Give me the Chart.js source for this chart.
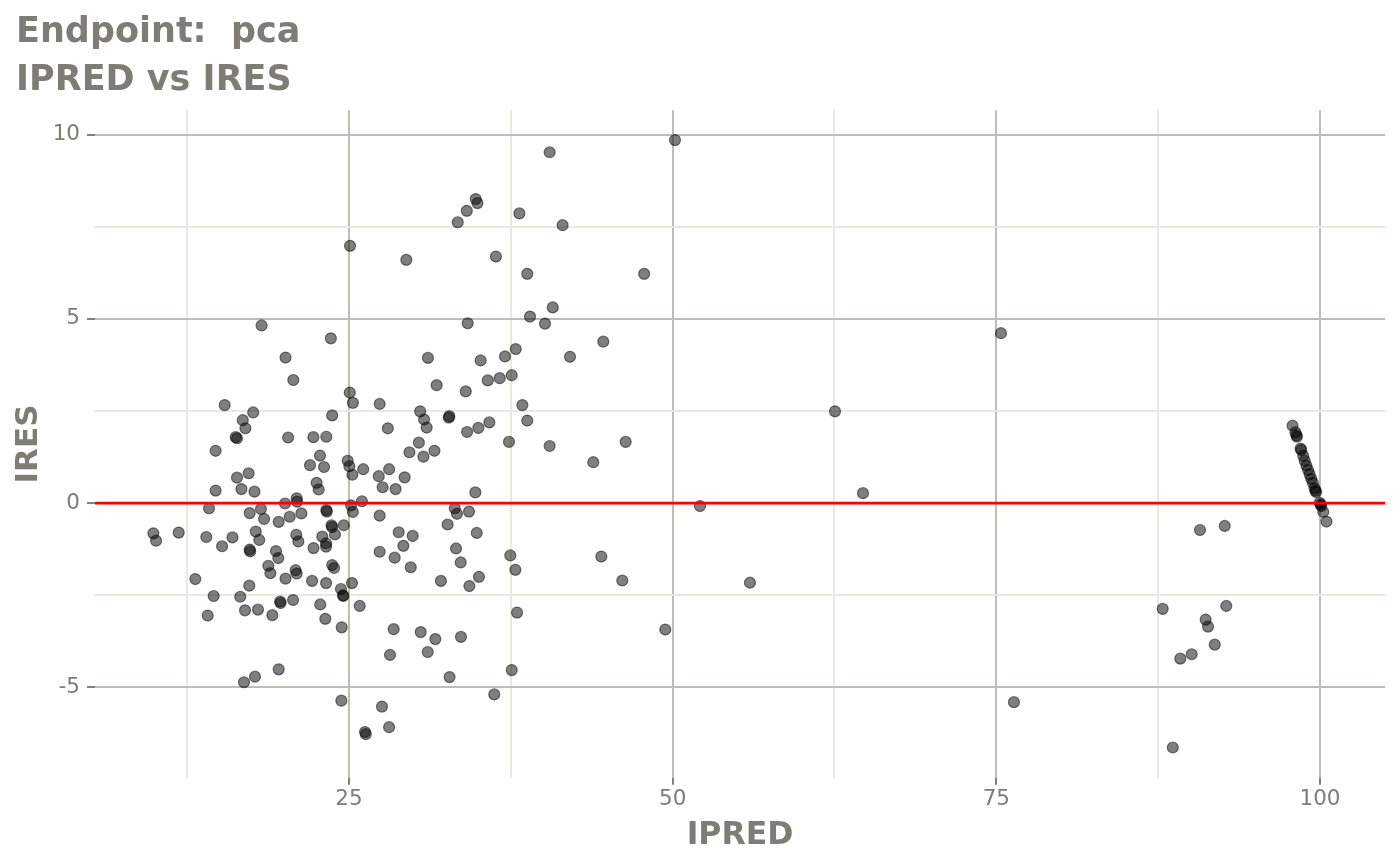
<!DOCTYPE html>
<html>
<head>
  <title>IPRED vs IRES</title>
  <script src="https://cdn.jsdelivr.net/npm/chart.js"></script>
  <style>
    body { margin: 0; background: #ffffff; }
    .chart-container { width: 1400px; height: 865px; }
  </style>
</head>
<body>
  <div class="chart-container">
    <canvas id="chart" width="1400" height="865"></canvas>
  </div>

  <script>
    // individual predictions (x) and individual residuals (y)
    const iPred = [
      25.08, 29.43, 18.25, 23.60, 20.10, 20.70, 25.06, 25.30, 27.37, 31.10,
      31.77, 15.40, 17.60, 16.80, 17.00, 23.70, 28.00, 30.50, 30.80, 31.00,
      16.25, 16.35, 20.30, 22.25, 23.25, 30.40, 14.70,
      29.67, 30.75, 31.60, 22.76, 21.99, 23.07, 24.90, 25.03, 25.26, 26.10,
      27.30, 28.10, 29.30, 27.60, 28.60, 22.50, 22.66, 16.35, 17.25, 14.70,
      16.69, 17.70, 20.06, 20.96, 21.00, 25.16, 25.30, 26.00, 14.19, 17.33,
      18.20, 18.44, 19.57, 20.42, 21.32, 23.25, 23.29, 23.65, 23.70, 24.60,
      27.37, 9.89, 10.10, 11.85, 13.98, 15.20, 16.00, 17.80, 18.07, 17.33,
      17.37, 19.36, 19.54, 20.93, 21.09, 22.26, 22.94, 23.23, 23.23, 23.92,
      27.37, 28.53, 28.84, 29.20, 29.92, 29.77, 32.10, 18.77, 18.93, 20.88,
      20.96, 20.10, 22.15, 23.23, 23.70, 23.85, 25.23, 24.38, 24.54, 24.56,
      13.13, 14.55, 16.60, 17.30, 19.68, 19.72, 20.68, 22.78, 25.83, 14.09,
      16.97, 17.97, 19.08, 23.17, 24.44, 28.45, 30.54, 31.67, 28.17, 31.08,
      19.57, 16.89, 17.74, 24.41, 27.55, 28.10, 26.24, 26.30,
      40.50, 50.18, 34.79, 34.92, 34.10, 33.40, 38.16, 41.50, 36.35, 38.77,
      47.80, 40.74, 38.98, 40.14, 34.17, 44.64, 37.88, 37.05, 42.07, 35.17,
      37.57, 36.64, 35.72, 34.02, 38.39, 38.77, 32.71, 32.75, 35.84, 34.99,
      34.12, 37.36, 40.50, 46.37,
      43.87, 34.76, 33.17, 33.34, 34.27, 32.62, 34.87, 33.27, 33.63, 34.30,
      35.04, 37.46, 37.85, 37.98, 52.11, 44.49, 46.11, 49.43, 55.97, 33.65,
      32.77, 37.57, 36.22,
      62.54, 64.70, 75.36, 76.36, 87.85, 88.63, 89.21, 90.09, 90.73, 91.17,
      91.35, 91.87, 92.64, 92.76,
      97.88, 98.10, 98.18, 98.22, 98.50, 98.55, 98.70, 98.82, 98.95, 99.08,
      99.20, 99.32, 99.45, 99.58, 99.65, 99.70, 99.98, 100.05, 100.10, 100.25,
      100.50
    ];
    const iRes = [
      6.98, 6.60, 4.82, 4.47, 3.95, 3.34, 3.00, 2.72, 2.69, 3.94,
      3.20, 2.66, 2.46, 2.25, 2.03, 2.38, 2.03, 2.49, 2.27, 2.05,
      1.79, 1.76, 1.78, 1.79, 1.80, 1.64, 1.42,
      1.38, 1.26, 1.42, 1.29, 1.03, 0.98, 1.15, 1.00, 0.77, 0.92,
      0.73, 0.92, 0.70, 0.43, 0.38, 0.55, 0.37, 0.69, 0.81, 0.34,
      0.38, 0.31, -0.01, 0.13, 0.04, -0.06, -0.24, 0.05, -0.14, -0.27,
      -0.16, -0.43, -0.51, -0.37, -0.28, -0.19, -0.23, -0.60, -0.65, -0.60,
      -0.34, -0.82, -1.02, -0.80, -0.92, -1.17, -0.93, -0.77, -1.00, -1.26,
      -1.31, -1.30, -1.49, -0.86, -1.04, -1.22, -0.91, -1.09, -1.18, -0.85,
      -1.32, -1.48, -0.79, -1.16, -0.89, -1.74, -2.11, -1.70, -1.90, -1.82,
      -1.91, -2.05, -2.11, -2.17, -1.68, -1.76, -2.17, -2.33, -2.50, -2.52,
      -2.06, -2.52, -2.54, -2.24, -2.67, -2.71, -2.63, -2.75, -2.79, -3.05,
      -2.91, -2.89, -3.04, -3.14, -3.37, -3.42, -3.50, -3.69, -4.12, -4.04,
      -4.51, -4.86, -4.71, -5.36, -5.52, -6.08, -6.21, -6.27,
      9.52, 9.85, 8.25, 8.14, 7.93, 7.62, 7.86, 7.54, 6.69, 6.22,
      6.22, 5.31, 5.06, 4.87, 4.88, 4.38, 4.18, 3.98, 3.97, 3.87,
      3.47, 3.39, 3.33, 3.03, 2.66, 2.24, 2.32, 2.36, 2.19, 2.04,
      1.93, 1.66, 1.55, 1.66,
      1.11, 0.29, -0.14, -0.29, -0.23, -0.58, -0.81, -1.23, -1.61, -2.25,
      -2.00, -1.42, -1.81, -2.97, -0.08, -1.45, -2.10, -3.43, -2.16, -3.63,
      -4.72, -4.53, -5.19,
      2.49, 0.27, 4.61, -5.40, -2.87, -6.63, -4.22, -4.10, -0.73, -3.16,
      -3.35, -3.84, -0.62, -2.79,
      2.10, 1.92, 1.84, 1.80, 1.48, 1.44, 1.28, 1.15, 1.02, 0.90,
      0.78, 0.66, 0.55, 0.40, 0.34, 0.30, 0.01, -0.04, -0.08, -0.24,
      -0.50
    ];
    const titleLines = ["Endpoint:  pca", "IPRED vs IRES"];
    const xMajorStep = 25;
    const yMajorStep = 5;
    const referenceRes = 0;

    const textGrey = "#7d7d75";
    const majorGrid = "rgb(190,190,178)";
    const minorGrid = "rgb(233,233,221)";

    Chart.defaults.font.family = "'DejaVu Sans', sans-serif";

    // red reference line at IRES = 0, drawn on top of the points
    const zeroLine = {
      id: "zeroLine",
      afterDatasetsDraw(chart) {
        const { ctx, chartArea } = chart;
        const y = chart.scales.y.getPixelForValue(referenceRes);
        ctx.save();
        ctx.strokeStyle = "#ff0000";
        ctx.lineWidth = 2.6;
        ctx.beginPath();
        ctx.moveTo(chartArea.left, y);
        ctx.lineTo(chartArea.right, y);
        ctx.stroke();
        ctx.restore();
      }
    };

    function gridColor(major) {
      return (ctx) => {
        const v = ctx.tick.value;
        if (v < ctx.scale.min || v > ctx.scale.max) return "transparent";
        return Math.abs(v % major) < 1e-9 ? majorGrid : minorGrid;
      };
    }
    function tickColor(major) {
      return (ctx) => Math.abs(ctx.tick.value % major) < 1e-9 ? "#808078" : "transparent";
    }

    const chart = new Chart("chart", {
      type: "scatter",
      data: {
        datasets: [{
          label: "IRES",
          data: iPred.map((x, i) => ({ x: x, y: iRes[i] })),
          backgroundColor: "rgba(0,0,0,0.5)",
          borderColor: "rgba(0,0,0,0.5)",
          borderWidth: 1.2,
          pointRadius: 5.5,
          pointHoverRadius: 5.5
        }]
      },
      options: {
        responsive: false,
        animation: false,
        events: [],
        layout: { padding: { left: 16, right: 15, top: 0, bottom: 0 } },
        plugins: {
          legend: { display: false },
          tooltip: { enabled: false },
          title: {
            display: true,
            text: titleLines,
            align: "start",
            color: textGrey,
            font: { size: 35, weight: "bold", lineHeight: 1.375 },
            padding: { top: 9, bottom: 5 }
          }
        },
        scales: {
          x: {
            type: "linear",
            min: 5.383,
            max: 105.02,
            border: { display: false },
            grid: {
              color: gridColor(xMajorStep),
              lineWidth: 2,
              tickLength: 7,
              tickColor: tickColor(xMajorStep),
              tickWidth: 2
            },
            ticks: {
              stepSize: 12.5,
              includeBounds: false,
              autoSkip: false,
              maxRotation: 0,
              padding: 2,
              color: textGrey,
              font: { size: 21.5 },
              callback: (v) => Math.abs(v % xMajorStep) < 1e-9 ? v : ""
            },
            title: {
              display: true,
              text: "IPRED",
              color: textGrey,
              font: { size: 31.5, weight: "bold", lineHeight: 1.2 },
              padding: { top: 0, bottom: 10 }
            },
            afterFit: (scale) => { scale.height = 87.3; }
          },
          y: {
            min: -7.45,
            max: 10.659,
            border: { display: false },
            grid: {
              color: gridColor(yMajorStep),
              lineWidth: 2,
              tickLength: 8,
              tickColor: tickColor(yMajorStep),
              tickWidth: 2
            },
            ticks: {
              stepSize: 2.5,
              includeBounds: false,
              autoSkip: false,
              padding: 7,
              color: textGrey,
              font: { size: 21.5 },
              callback: (v) => Math.abs(v % yMajorStep) < 1e-9 ? v : ""
            },
            title: {
              display: true,
              text: "IRES",
              color: textGrey,
              font: { size: 31, weight: "bold", lineHeight: 0.85 },
              padding: { top: 0, bottom: 0 }
            },
            afterFit: (scale) => { scale.width = 79; }
          }
        }
      },
      plugins: [zeroLine]
    });
  </script>
</body>
</html>
